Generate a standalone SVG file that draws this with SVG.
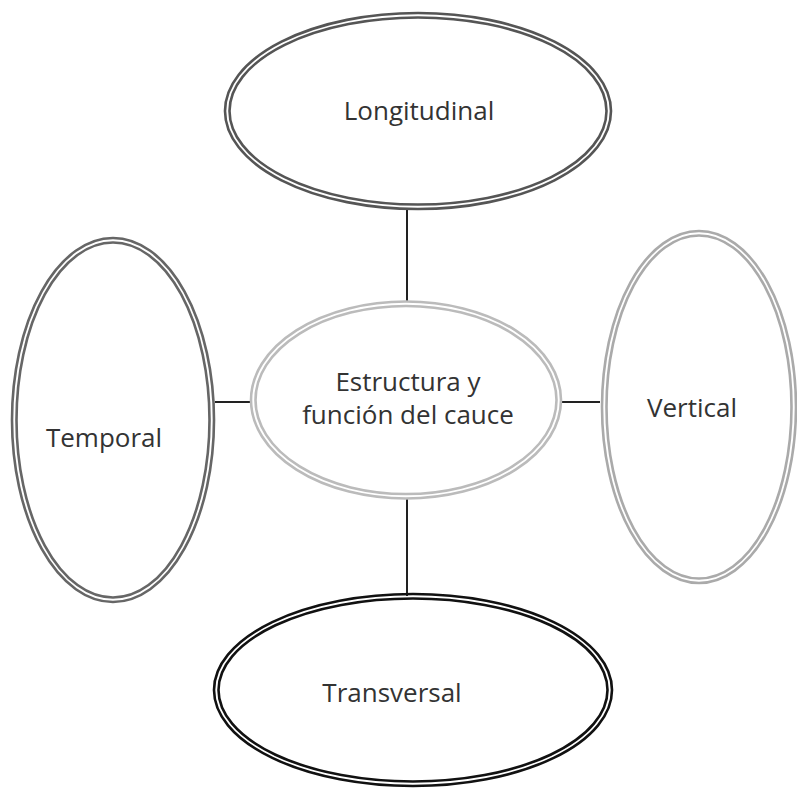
<svg xmlns="http://www.w3.org/2000/svg" width="797" height="797" viewBox="0 0 797 797">
<style>
.o{fill:none;stroke-width:2.6}
.t{font-family:"Open Sans","Noto Sans",sans-serif;font-size:26px;fill:#333;text-anchor:middle}
.c{stroke:#222;stroke-width:2;fill:none}
</style>
<rect width="797" height="797" fill="#fff"/>
<g id="connectors">
<line class="c" x1="407" y1="208" x2="407" y2="302"/>
<line class="c" x1="215" y1="402" x2="252" y2="402"/>
<line class="c" x1="561" y1="402" x2="600" y2="402"/>
<line class="c" x1="407" y1="499" x2="407" y2="596"/>
</g>
<g id="longitudinal">
<ellipse class="o" cx="418" cy="111" rx="193" ry="98" stroke="#555"/>
<ellipse class="o" cx="418" cy="111" rx="188.5" ry="93.5" stroke="#555"/>
<text class="t" x="419" y="120">Longitudinal</text>
</g>
<g id="center">
<ellipse class="o" cx="406" cy="400" rx="155" ry="98.5" stroke="#bbb"/>
<ellipse class="o" cx="406" cy="400" rx="150.5" ry="94" stroke="#bbb"/>
<text class="t" x="408" y="391">Estructura y</text>
<text class="t" x="408" y="424">función del cauce</text>
</g>
<g id="temporal">
<ellipse class="o" cx="113" cy="420" rx="101" ry="182" stroke="#666"/>
<ellipse class="o" cx="113" cy="420" rx="96.5" ry="177.5" stroke="#666"/>
<text class="t" x="104" y="447">Temporal</text>
</g>
<g id="vertical">
<ellipse class="o" cx="699" cy="407" rx="97" ry="176" stroke="#aaa"/>
<ellipse class="o" cx="699" cy="407" rx="92.5" ry="171.5" stroke="#aaa"/>
<text class="t" x="692" y="417">Vertical</text>
</g>
<g id="transversal">
<ellipse class="o" cx="413" cy="690" rx="199" ry="96" stroke="#111"/>
<ellipse class="o" cx="413" cy="690" rx="194.5" ry="91.5" stroke="#111"/>
<text class="t" x="392" y="702">Transversal</text>
</g>
</svg>
